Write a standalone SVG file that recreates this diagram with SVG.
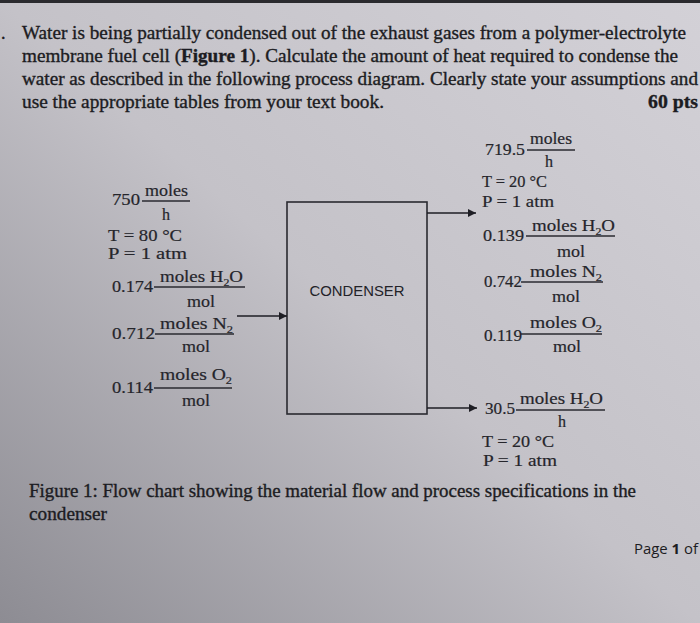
<svg xmlns="http://www.w3.org/2000/svg" width="700" height="623" viewBox="0 0 700 623">
<defs>
<linearGradient id="bg" x1="1" y1="0" x2="0" y2="1">
<stop offset="0" stop-color="#d3d1d7"/>
<stop offset="0.5" stop-color="#c4c2c8"/>
<stop offset="1" stop-color="#8d8c93"/>
</linearGradient>
<marker id="ah" viewBox="0 0 10 10" refX="10" refY="5" markerWidth="8" markerHeight="8" markerUnits="userSpaceOnUse" orient="auto">
<path d="M0,0 L10,5 L0,10 z" fill="#1e1e24"/>
</marker>
<style>
.q{font-family:"Liberation Serif","Times New Roman",serif;font-size:18px;fill:#1c1c22;stroke:#1c1c22;stroke-width:0.35}
.b{font-weight:bold}
.d{font-family:"Liberation Serif","Times New Roman",serif;font-size:16px;fill:#25252b;stroke:#25252b;stroke-width:0.2}
.s{font-size:10px}
.f{stroke:#2a2a30;stroke-width:1.3}
.con{stroke:#1e1e24;stroke-width:1.5;fill:none}
.box{fill:none;stroke:#2a2a30;stroke-width:1.6}
.n{font-family:"Liberation Sans",Arial,sans-serif;font-size:15px;fill:#222228}
.pg{font-family:"Open Sans","Liberation Sans",sans-serif;font-size:15px;fill:#1c1c22}
</style>
</defs>
<rect width="700" height="623" fill="url(#bg)"/>
<rect width="700" height="3" fill="#2a2a2e"/>

<g id="question">
<text class="q" x="1" y="39">.</text>
<text class="q" x="22" y="39" textLength="664" lengthAdjust="spacingAndGlyphs">Water is being partially condensed out of the exhaust gases from a polymer-electrolyte</text>
<text class="q" x="22" y="62" textLength="656" lengthAdjust="spacingAndGlyphs">membrane fuel cell (<tspan class="b">Figure 1</tspan>). Calculate the amount of heat required to condense the</text>
<text class="q" x="22" y="85" textLength="676" lengthAdjust="spacingAndGlyphs">water as described in the following process diagram. Clearly state your assumptions and</text>
<text class="q" x="22" y="108" textLength="362" lengthAdjust="spacingAndGlyphs">use the appropriate tables from your text book.</text>
<text class="q b" x="648" y="108" textLength="50" lengthAdjust="spacingAndGlyphs">60 pts</text>
</g>

<g id="condenser">
<rect class="box" x="287" y="202" width="140" height="212"/>
<text class="n" x="357" y="296" text-anchor="middle" textLength="95" lengthAdjust="spacingAndGlyphs">CONDENSER</text>
</g>

<g id="feed">
<text class="d" x="112" y="205" textLength="28" lengthAdjust="spacingAndGlyphs">750</text>
<text class="d" x="145" y="196" textLength="43" lengthAdjust="spacingAndGlyphs">moles</text>
<line class="f" x1="142" y1="201" x2="190" y2="201"/>
<text class="d" x="166" y="220" text-anchor="middle">h</text>
<text class="d" x="108" y="241" textLength="74" lengthAdjust="spacingAndGlyphs">T = 80 °C</text>
<text class="d" x="108" y="259" textLength="79" lengthAdjust="spacingAndGlyphs">P = 1 atm</text>
<text class="d" x="112" y="292" textLength="41" lengthAdjust="spacingAndGlyphs">0.174</text>
<text class="d" x="160" y="282" textLength="83" lengthAdjust="spacingAndGlyphs">moles H<tspan class="s" dy="4">2</tspan><tspan dy="-4">O</tspan></text>
<line class="f" x1="154" y1="287" x2="245" y2="287"/>
<text class="d" x="187" y="307" textLength="28" lengthAdjust="spacingAndGlyphs">mol</text>
<text class="d" x="112" y="339" textLength="43" lengthAdjust="spacingAndGlyphs">0.712</text>
<text class="d" x="160" y="329" textLength="73" lengthAdjust="spacingAndGlyphs">moles N<tspan class="s" dy="4">2</tspan></text>
<line class="f" x1="155" y1="334" x2="234" y2="334"/>
<text class="d" x="182" y="352" textLength="28" lengthAdjust="spacingAndGlyphs">mol</text>
<text class="d" x="112" y="393" textLength="41" lengthAdjust="spacingAndGlyphs">0.114</text>
<text class="d" x="160" y="380" textLength="72" lengthAdjust="spacingAndGlyphs">moles O<tspan class="s" dy="4">2</tspan></text>
<line class="f" x1="154" y1="388" x2="232" y2="388"/>
<text class="d" x="182" y="406" textLength="28" lengthAdjust="spacingAndGlyphs">mol</text>
</g>

<g id="gas-out">
<text class="d" x="485" y="155" textLength="40" lengthAdjust="spacingAndGlyphs">719.5</text>
<text class="d" x="530" y="144" textLength="42" lengthAdjust="spacingAndGlyphs">moles</text>
<line class="f" x1="527" y1="150" x2="575" y2="150"/>
<text class="d" x="549" y="167" text-anchor="middle">h</text>
<text class="d" x="482" y="187" textLength="65" lengthAdjust="spacingAndGlyphs">T = 20 °C</text>
<text class="d" x="482" y="207" textLength="72" lengthAdjust="spacingAndGlyphs">P = 1 atm</text>
<text class="d" x="483" y="241" textLength="41" lengthAdjust="spacingAndGlyphs">0.139</text>
<text class="d" x="532" y="231" textLength="83" lengthAdjust="spacingAndGlyphs">moles H<tspan class="s" dy="4">2</tspan><tspan dy="-4">O</tspan></text>
<line class="f" x1="526" y1="236" x2="615" y2="236"/>
<text class="d" x="557" y="257" textLength="28" lengthAdjust="spacingAndGlyphs">mol</text>
<text class="d" x="484" y="287" textLength="38" lengthAdjust="spacingAndGlyphs">0.742</text>
<text class="d" x="530" y="277" textLength="72" lengthAdjust="spacingAndGlyphs">moles N<tspan class="s" dy="4">2</tspan></text>
<line class="f" x1="521" y1="282" x2="603" y2="282"/>
<text class="d" x="552" y="302" textLength="28" lengthAdjust="spacingAndGlyphs">mol</text>
<text class="d" x="484" y="341" textLength="38" lengthAdjust="spacingAndGlyphs">0.119</text>
<text class="d" x="530" y="328" textLength="72" lengthAdjust="spacingAndGlyphs">moles O<tspan class="s" dy="4">2</tspan></text>
<line class="f" x1="521" y1="334" x2="602" y2="334"/>
<text class="d" x="553" y="352" textLength="28" lengthAdjust="spacingAndGlyphs">mol</text>
</g>

<g id="water-out">
<text class="d" x="485" y="414" textLength="30" lengthAdjust="spacingAndGlyphs">30.5</text>
<text class="d" x="520" y="404" textLength="83" lengthAdjust="spacingAndGlyphs">moles H<tspan class="s" dy="4">2</tspan><tspan dy="-4">O</tspan></text>
<line class="f" x1="516" y1="410" x2="605" y2="410"/>
<text class="d" x="562" y="427" text-anchor="middle">h</text>
<text class="d" x="482" y="447" textLength="72" lengthAdjust="spacingAndGlyphs">T = 20 °C</text>
<text class="d" x="483" y="466" textLength="74" lengthAdjust="spacingAndGlyphs">P = 1 atm</text>
</g>

<g id="connectors">
<line class="con" x1="237" y1="316" x2="287" y2="316" marker-end="url(#ah)"/>
<line class="con" x1="427" y1="213" x2="476" y2="213" marker-end="url(#ah)"/>
<line class="con" x1="427" y1="408" x2="477" y2="408" marker-end="url(#ah)"/>
</g>

<g id="caption">
<text class="q" x="29" y="497" textLength="607" lengthAdjust="spacingAndGlyphs">Figure 1: Flow chart showing the material flow and process specifications in the</text>
<text class="q" x="29" y="520" textLength="78" lengthAdjust="spacingAndGlyphs">condenser</text>
<text class="pg" x="634" y="554" textLength="64" lengthAdjust="spacingAndGlyphs">Page <tspan font-weight="bold">1</tspan> of</text>
</g>
</svg>
